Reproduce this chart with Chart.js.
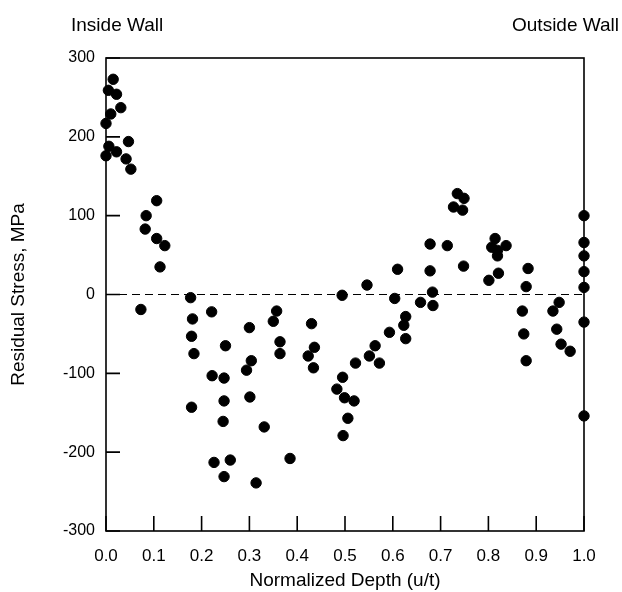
<!DOCTYPE html>
<html>
<head>
<meta charset="utf-8">
<script src="https://cdn.jsdelivr.net/npm/chart.js@4"></script>
<style>
  html, body { margin: 0; padding: 0; background: #fff; }
  #wrap { width: 622px; height: 592px; position: relative; }
</style>
</head>
<body>
<div id="wrap"><canvas id="stresschart" width="622" height="592"></canvas></div>
<script>
// normalized depth (u/t) and residual stress (MPa)
const depth = [
  0.000, 0.000, 0.005, 0.006, 0.010, 0.015, 0.022, 0.022, 0.031, 0.042,
  0.047, 0.052, 0.073, 0.082, 0.084, 0.106, 0.106, 0.113, 0.123, 0.177,
  0.179, 0.179, 0.181, 0.184, 0.221, 0.222, 0.226, 0.245, 0.247, 0.247,
  0.247, 0.250, 0.260, 0.294, 0.300, 0.301, 0.304, 0.314, 0.331, 0.350,
  0.357, 0.364, 0.364, 0.385, 0.423, 0.430, 0.434, 0.436, 0.483, 0.494,
  0.495, 0.496, 0.499, 0.506, 0.519, 0.522, 0.546, 0.551, 0.563, 0.572,
  0.593, 0.604, 0.610, 0.623, 0.627, 0.627, 0.658, 0.678, 0.678, 0.683,
  0.684, 0.714, 0.727, 0.735, 0.746, 0.748, 0.749, 0.801, 0.807, 0.814,
  0.819, 0.819, 0.821, 0.837, 0.871, 0.874, 0.879, 0.879, 0.883, 0.935,
  0.943, 0.948, 0.952, 0.971, 1.000, 1.000, 1.000, 1.000, 1.000, 1.000,
  1.000
]
const stress = [
  217, 176, 259, 188, 229, 273, 254, 181, 237, 172,
  194, 159, -19, 83, 100, 119, 71, 35, 62, -4,
  -53, -143, -31, -75, -22, -103, -213, -161, -106, -135,
  -231, -65, -210, -96, -42, -130, -84, -239, -168, -34,
  -21, -60, -75, -208, -78, -37, -93, -67, -120, -1,
  -105, -179, -131, -157, -135, -87, 12, -78, -65, -87,
  -48, -5, 32, -39, -28, -56, -10, 64, 30, 3,
  -14, 62, 111, 128, 107, 36, 122, 18, 60, 71,
  56, 49, 27, 62, -21, -50, 10, -84, 33, -21,
  -44, -10, -63, -72, 100, 66, 49, 29, 9, -35,
  -154
]
const xTicks = [0, 0.1, 0.2, 0.3, 0.4, 0.5, 0.6, 0.7, 0.8, 0.9, 1.0]
const yTicks = [-300, -200, -100, 0, 100, 200, 300]
const wallLabels = ['Inside Wall', 'Outside Wall']

const points = depth.map((d, i) => ({x: d, y: stress[i]}))

const fontFam = '"Liberation Sans", Arial, Helvetica, sans-serif'

// box round the plot, inward tick marks, wall labels
const framePlugin = {
  id: 'frame',
  afterDraw(chart) {
    const ctx = chart.ctx
    const a = chart.chartArea
    const xs = chart.scales.x
    const ys = chart.scales.y
    ctx.save()
    ctx.strokeStyle = '#000'
    ctx.lineWidth = 1.6
    ctx.strokeRect(a.left, a.top, a.right - a.left, a.bottom - a.top)
    ctx.beginPath()
    yTicks.forEach(v => {
      const py = ys.getPixelForValue(v)
      ctx.moveTo(a.left, py)
      ctx.lineTo(a.left + 14, py)
    })
    xTicks.forEach(v => {
      const px = xs.getPixelForValue(v)
      ctx.moveTo(px, a.bottom)
      ctx.lineTo(px, a.bottom - 15)
    })
    ctx.stroke()
    ctx.fillStyle = '#000'
    ctx.font = '19px ' + fontFam
    ctx.textBaseline = 'alphabetic'
    ctx.textAlign = 'left'
    ctx.fillText(wallLabels[0], 71, 31)
    ctx.textAlign = 'right'
    ctx.fillText(wallLabels[1], 619, 31)
    ctx.restore()
  }
}

new Chart(document.getElementById('stresschart'), {
  type: 'scatter',
  data: {
    datasets: [
      {
        label: 'Residual stress',
        data: points,
        backgroundColor: '#000',
        borderColor: '#000',
        pointRadius: 5.2,
        pointHoverRadius: 5.2,
        clip: false
      },
      {
        type: 'line',
        label: 'zero',
        data: [{x: 0, y: 0}, {x: 1, y: 0}],
        borderColor: '#000',
        borderWidth: 1.2,
        borderDash: [8, 5],
        pointRadius: 0,
        fill: false
      }
    ]
  },
  plugins: [framePlugin],
  options: {
    responsive: false,
    animation: false,
    layout: { padding: { top: 58, right: 38, left: 0, bottom: 0 } },
    plugins: {
      legend: { display: false },
      tooltip: { enabled: false }
    },
    scales: {
      x: {
        type: 'linear',
        min: 0,
        max: 1,
        afterBuildTicks: s => { s.ticks = xTicks.map(v => ({value: v})) },
        afterFit: s => { s.height = 61 },
        grid: { display: false, drawTicks: false },
        border: { display: false },
        ticks: {
          color: '#000',
          padding: 15,
          font: { family: fontFam, size: 17 },
          callback: v => v.toFixed(1)
        },
        title: {
          display: true,
          text: 'Normalized Depth (u/t)',
          color: '#000',
          font: { family: fontFam, size: 19 },
          padding: { top: 0, bottom: 0 }
        }
      },
      y: {
        type: 'linear',
        min: -300,
        max: 300,
        afterBuildTicks: s => { s.ticks = yTicks.map(v => ({value: v})) },
        afterFit: s => { s.width = 106 },
        grid: { display: false, drawTicks: false },
        border: { display: false },
        ticks: {
          color: '#000',
          padding: 11,
          font: { family: fontFam, size: 16 }
        },
        title: {
          display: true,
          text: 'Residual Stress, MPa',
          color: '#000',
          font: { family: fontFam, size: 19 },
          padding: { top: 7, bottom: 0 }
        }
      }
    }
  }
})
</script>
</body>
</html>
